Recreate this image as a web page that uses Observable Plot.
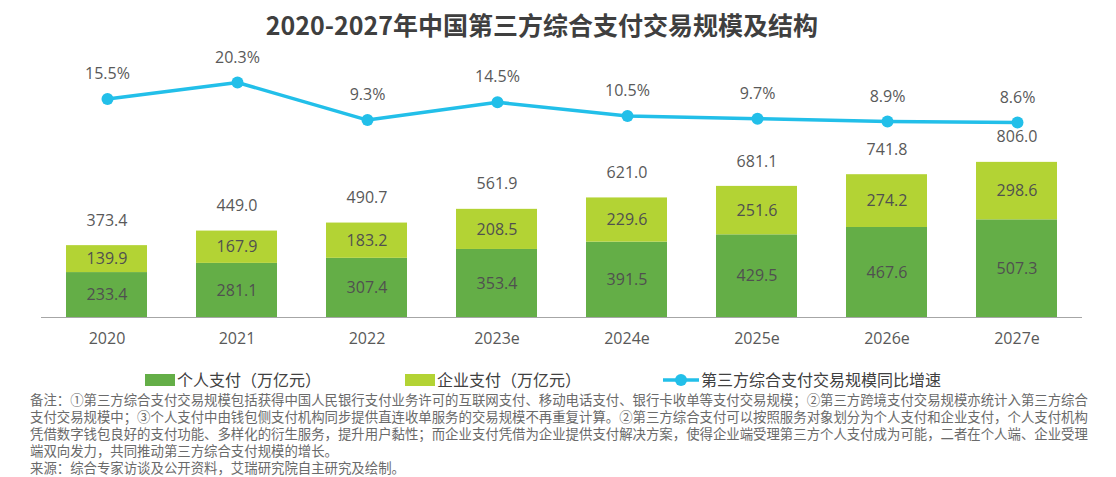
<!DOCTYPE html>
<html>
<head>
<meta charset="utf-8">
<script src="https://cdn.jsdelivr.net/npm/d3@7"></script>
<script src="https://cdn.jsdelivr.net/npm/@observablehq/plot@0.6"></script>
<style>
  html, body { margin: 0; padding: 0; background: #fff; }
  #root { position: relative; width: 1116px; height: 477px; overflow: hidden;
          font-family: "Open Sans", "Noto Sans CJK SC", sans-serif; color: #595959; }
  #title { position: absolute; left: 0; width: 1084px; top: 6px; text-align: center;
           font-family: "Noto Sans CJK SC", sans-serif; font-weight: bold; font-size: 25px; color: #3f3f3f; }
  .layer { position: absolute; left: 0; top: 40px; }
  #legend { position: absolute; top: 371px; left: 0; width: 1116px; height: 17px;
            font-family: "Noto Sans CJK SC", sans-serif; font-size: 16px; line-height: 17px; color: #404040; }
  .item { position: absolute; top: 0; display: flex; align-items: center; height: 17px; }
  .item span { line-height: 17px; }
  .sw { width: 30px; height: 12px; margin-right: 2px; }
  #notes { position: absolute; left: 30px; top: 391px; font-family: "Noto Sans CJK SC", sans-serif;
           font-size: 13.4px; line-height: 17px; color: #6a6a6a; white-space: pre; }
</style>
</head>
<body>
<div id="root">
  <div id="title"></div>
  <div id="bars" class="layer"></div>
  <div id="line" class="layer"></div>
  <div id="legend"></div>
  <div id="notes"></div>
</div>
<script>
const title = "2020-2027年中国第三方综合支付交易规模及结构";
const years = ["2020","2021","2022","2023e","2024e","2025e","2026e","2027e"];
const personal = [233.4,281.1,307.4,353.4,391.5,429.5,467.6,507.3];
const enterprise = [139.9,167.9,183.2,208.5,229.6,251.6,274.2,298.6];
const totals = [373.4,449.0,490.7,561.9,621.0,681.1,741.8,806.0];
const growth = [15.5,20.3,9.3,14.5,10.5,9.7,8.9,8.6];
const seriesNames = ["个人支付（万亿元）","企业支付（万亿元）","第三方综合支付交易规模同比增速"];
const colors = ["#64ae47","#b3d334","#22bfe9"];
const notes = [
"备注：①第三方综合支付交易规模包括获得中国人民银行支付业务许可的互联网支付、移动电话支付、银行卡收单等支付交易规模；②第三方跨境支付交易规模亦统计入第三方综合",
"支付交易规模中；③个人支付中由钱包侧支付机构同步提供直连收单服务的交易规模不再重复计算。②第三方综合支付可以按照服务对象划分为个人支付和企业支付，个人支付机构",
"凭借数字钱包良好的支付功能、多样化的衍生服务，提升用户黏性；而企业支付凭借为企业提供支付解决方案，使得企业端受理第三方个人支付成为可能，二者在个人端、企业受理",
"端双向发力，共同推动第三方综合支付规模的增长。",
"来源：综合专家访谈及公开资料，艾瑞研究院自主研究及绘制。"
];

document.getElementById("title").textContent = title;

const long = [];
years.forEach((y, i) => {
  long.push({year: y, series: seriesNames[0], value: personal[i]});
  long.push({year: y, series: seriesNames[1], value: enterprise[i]});
});
const totalRows = years.map((y, i) => ({year: y, value: totals[i]}));
const growthRows = years.map((y, i) => ({year: y, value: growth[i]}));

const W = 1116, H = 320;
const xOpts = {domain: years, paddingInner: 0.377, paddingOuter: 0.19};
const font = "\"Open Sans\", \"Noto Sans CJK SC\", sans-serif";

const bars = Plot.plot({
  width: W, height: H,
  marginLeft: 41, marginRight: 34, marginTop: 0, marginBottom: 43,
  style: {fontFamily: font, fontSize: "16px", color: "#595959", background: "transparent"},
  x: {...xOpts, label: null},
  y: {domain: [0, 1000], range: [277, 84.5], axis: null},
  color: {domain: seriesNames.slice(0, 2), range: colors.slice(0, 2)},
  marks: [
    Plot.barY(long, {x: "year", y: "value", fill: "series"}),
    Plot.text(long, Plot.stackY({x: "year", y: "value", z: "series", text: d => d.value.toFixed(1), fill: "#505050", fontSize: 16})),
    Plot.text(totalRows, {x: "year", y: "value", text: d => d.value.toFixed(1), dy: -25, fill: "#595959", fontSize: 16}),
    Plot.ruleY([0], {stroke: "#a6a6a6", strokeWidth: 1}),
    Plot.axisX({tickSize: 0, tickPadding: 15, fontSize: 16, label: null, fill: "#595959"})
  ]
});
document.getElementById("bars").appendChild(bars);

const line = Plot.plot({
  width: W, height: H,
  marginLeft: 41, marginRight: 34, marginTop: 0, marginBottom: 43,
  style: {fontFamily: font, fontSize: "16px", background: "transparent"},
  x: {...xOpts, axis: null},
  y: {domain: [0, 25], range: [111.4, 25.9], axis: null},
  marks: [
    Plot.line(growthRows, {x: "year", y: "value", stroke: colors[2], strokeWidth: 3.5}),
    Plot.dot(growthRows, {x: "year", y: "value", fill: colors[2], r: 6}),
    Plot.text(growthRows, {x: "year", y: "value", text: d => d.value.toFixed(1) + "%", dy: -25, fill: "#595959", fontSize: 16})
  ]
});
document.getElementById("line").appendChild(line);

const legend = document.getElementById("legend");
const lefts = [145, 405, 663];
seriesNames.forEach((name, i) => {
  const it = document.createElement("div");
  it.className = "item";
  it.style.left = lefts[i] + "px";
  if (i < 2) {
    it.innerHTML = `<span class="sw" style="background:${colors[i]}"></span><span>${name}</span>`;
  } else {
    it.innerHTML = `<svg width="36" height="14" style="margin-right:2px"><line x1="0" x2="36" y1="7" y2="7" stroke="${colors[2]}" stroke-width="3.5"/><circle cx="18" cy="7" r="6" fill="${colors[2]}"/></svg><span>${name}</span>`;
  }
  legend.appendChild(it);
});

document.getElementById("notes").textContent = notes.join("\n");
</script>
</body>
</html>
